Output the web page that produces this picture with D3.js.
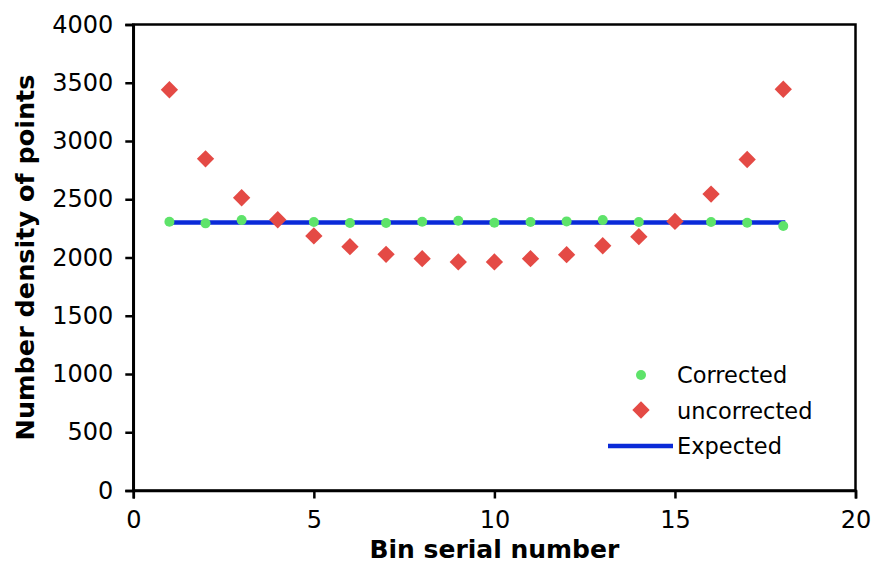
<!DOCTYPE html>
<html lang="en">
<head>
    <meta charset="UTF-8">
    <title>Number density of points per bin</title>
    <script src="https://d3js.org/d3.v7.min.js"></script>
    <style>
        body { margin: 0; background: #fff; }
        text { font-family: "DejaVu Sans", Verdana, sans-serif; fill: #000; }
    </style>
</head>
<body>
<svg width="876" height="568"></svg>
<script>
    // bin serial numbers 1..18
    const bins = [1, 2, 3, 4, 5, 6, 7, 8, 9, 10, 11, 12, 13, 14, 15, 16, 17, 18]
    const corrected = [2307, 2293, 2321, 2320, 2304, 2296, 2296, 2307, 2316, 2299,
                       2304, 2310, 2321, 2304, 2310, 2304, 2299, 2270]
    const uncorrected = [3440, 2847, 2513, 2324, 2185, 2093, 2027, 1990, 1962, 1962,
                         1990, 2024, 2101, 2179, 2310, 2544, 2841, 3444]
    const expected = 2300
    const xTicks = [0, 5, 10, 15, 20]
    const yTicks = [0, 500, 1000, 1500, 2000, 2500, 3000, 3500, 4000]

    let svg = d3.select('svg')
    let plotL = 133.3, plotR = 855.5, plotT = 24.5, plotB = 490.5

    let x = d3.scaleLinear().domain([0, 20]).range([plotL, plotR])
    let y = d3.scaleLinear().domain([0, 4000]).range([plotB, plotT])

    // plot frame
    svg.append("rect")
        .attr("x", plotL).attr("y", plotT)
        .attr("width", plotR - plotL).attr("height", plotB - plotT)
        .attr("fill", "none").attr("stroke", "#000").attr("stroke-width", 2.5)

    // axes
    let xAxis = svg.append("g")
        .attr("transform", `translate(0,${plotB})`)
        .call(d3.axisBottom(x).tickValues(xTicks).tickFormat(d3.format("d"))
            .tickSize(8).tickPadding(12))
    let yAxis = svg.append("g")
        .attr("transform", `translate(${plotL},0)`)
        .call(d3.axisLeft(y).tickValues(yTicks).tickFormat(d3.format("d"))
            .tickSize(8).tickPadding(12))
    for (let ax of [xAxis, yAxis]) {
        ax.select(".domain").attr("stroke-width", 2.5)
        ax.selectAll(".tick line").attr("stroke-width", 2.5)
        ax.selectAll(".tick text")
            .style("font-family", '"DejaVu Sans", Verdana, sans-serif')
            .style("font-size", "24px")
    }

    // axis titles
    svg.append("text")
        .attr("x", (plotL + plotR) / 2).attr("y", 558)
        .attr("text-anchor", "middle")
        .style("font-size", "25px").style("font-weight", "bold")
        .text("Bin serial number")
    svg.append("text")
        .attr("transform", `translate(34,${(plotT + plotB) / 2}) rotate(-90)`)
        .attr("text-anchor", "middle")
        .style("font-size", "25.5px").style("font-weight", "bold")
        .text("Number density of points")

    const blue = "#0a2ad8", green = "#5ee36a", red = "#e44a45"

    // expected line
    svg.append("line")
        .attr("x1", x(bins[0])).attr("x2", x(bins[bins.length - 1]) + 2)
        .attr("y1", y(expected)).attr("y2", y(expected))
        .attr("stroke", blue).attr("stroke-width", 4.5)

    // corrected dots
    svg.append("g").selectAll("circle")
        .data(bins)
        .enter()
        .append("circle")
        .attr("cx", d => x(d))
        .attr("cy", (d, i) => y(corrected[i]))
        .attr("r", 5)
        .attr("fill", green)

    // uncorrected diamonds (drawn over the dots)
    let diamond = d3.symbol().type(d3.symbolSquare).size(150)
    svg.append("g").selectAll("path")
        .data(bins)
        .enter()
        .append("path")
        .attr("d", diamond)
        .attr("transform", (d, i) => `translate(${x(d)},${y(uncorrected[i])}) rotate(45)`)
        .attr("fill", red)

    // legend
    let lg = svg.append("g")
    lg.append("circle").attr("cx", 641).attr("cy", 375).attr("r", 5).attr("fill", green)
    lg.append("path").attr("d", diamond)
        .attr("transform", "translate(641,410) rotate(45)").attr("fill", red)
    lg.append("line").attr("x1", 608).attr("x2", 673).attr("y1", 446).attr("y2", 446)
        .attr("stroke", blue).attr("stroke-width", 4.5)
    let legendLabels = ["Corrected", "uncorrected", "Expected"]
    lg.selectAll("text.lab")
        .data(legendLabels)
        .enter()
        .append("text")
        .attr("class", "lab")
        .attr("x", 677)
        .attr("y", (d, i) => 375 + i * 35.5)
        .attr("dy", "0.36em")
        .style("font-size", "22.5px")
        .text(d => d)
</script>
</body>
</html>
